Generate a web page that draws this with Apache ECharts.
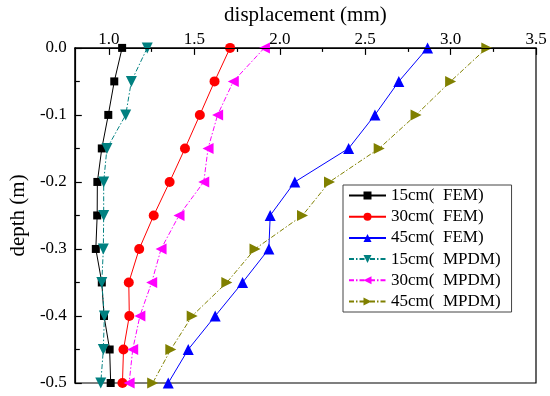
<!DOCTYPE html>
<html><head><meta charset="utf-8">
<script src="https://cdn.jsdelivr.net/npm/echarts@6/dist/echarts.min.js"></script>
<style>html,body{margin:0;padding:0;background:#fff}#c{width:550px;height:396px}</style>
</head><body><div id="c"></div>
<script>
const depth = [0, -0.05, -0.1, -0.15, -0.2, -0.25, -0.3, -0.35, -0.4, -0.45, -0.5];
const fem15  = [1.077, 1.031, 0.996, 0.958, 0.932, 0.931, 0.923, 0.958, 0.971, 1.004, 1.010];
const fem30  = [1.709, 1.618, 1.532, 1.445, 1.355, 1.262, 1.177, 1.116, 1.119, 1.085, 1.079];
const fem45  = [2.865, 2.697, 2.557, 2.403, 2.088, 1.944, 1.936, 1.782, 1.622, 1.464, 1.347];
const mpdm15 = [1.224, 1.131, 1.098, 0.988, 0.969, 0.969, 0.967, 0.958, 0.973, 0.967, 0.952];
const mpdm30 = [1.910, 1.728, 1.636, 1.580, 1.555, 1.410, 1.305, 1.250, 1.181, 1.139, 1.118];
const mpdm45 = [3.212, 3.000, 2.798, 2.582, 2.291, 2.133, 1.855, 1.690, 1.487, 1.362, 1.256];
const xMajorTicks = [1.0, 1.5, 2.0, 2.5, 3.0, 3.5];
const xMinorTicks = [1.25, 1.75, 2.25, 2.75, 3.25];

const font = 'Liberation Serif';
const dashDot = [5, 2, 1.5, 2];
function mk(name, data, color, symbol, rot, dashed) {
  return {
    name, type: 'line', xAxisIndex: 0, yAxisIndex: 0,
    data: data.map((v, i) => [v, depth[i]]),
    symbol, symbolRotate: rot, symbolSize: symbol === 'rect' ? 8 : (symbol === 'circle' ? 10 : 11),
    itemStyle: { color },
    lineStyle: { color, width: 1, type: dashed ? dashDot : 'solid' },
    clip: false, z: 3
  };
}
const chart = echarts.init(document.getElementById('c'));
chart.setOption({
  animation: false,
  grid: { left: 71, right: 14, top: 42, bottom: 13, show: true, borderColor: '#000', borderWidth: 1.2 },
  xAxis: [{
    type: 'value', position: 'top', min: 0.8, max: 3.5, z: 5,
    name: 'displacement (mm)', nameLocation: 'middle', nameGap: 19,
    nameTextStyle: { fontFamily: font, fontSize: 21, color: '#000' },
    axisLine: { show: true, lineStyle: { color: '#000', width: 1.2 } },
    axisTick: { show: true, inside: true, length: 7, customValues: xMajorTicks, lineStyle: { color: '#000', width: 1.2 } },
    axisLabel: { customValues: xMajorTicks, formatter: v => v.toFixed(1), fontFamily: font, fontSize: 17, color: '#000', margin: 0 },
    splitLine: { show: false }
  }, {
    type: 'value', position: 'top', min: 0.8, max: 3.5, z: 5,
    axisLine: { show: false },
    axisTick: { show: true, inside: true, length: 4, customValues: xMinorTicks, lineStyle: { color: '#000', width: 1.2 } },
    axisLabel: { show: false },
    splitLine: { show: false }
  }],
  yAxis: [{
    type: 'value', min: -0.5, max: 0, interval: 0.1, z: 5,
    name: 'depth (m)', nameLocation: 'middle', nameGap: 43,
    nameTextStyle: { fontFamily: font, fontSize: 21, color: '#000' },
    axisLine: { show: true, lineStyle: { color: '#000', width: 1.2 } },
    axisTick: { show: true, inside: true, length: 7, lineStyle: { color: '#000', width: 1.2 } },
    minorTick: { show: true, splitNumber: 2, length: 5, lineStyle: { color: '#000', width: 1.2 } },
    axisLabel: { formatter: v => (Math.abs(v) < 1e-9 ? 0 : v).toFixed(1), fontFamily: font, fontSize: 17, color: '#000', margin: 8 },
    splitLine: { show: false }
  }],
  legend: {
    orient: 'vertical', left: 343, top: 185,
    itemWidth: 37, itemHeight: 10, itemGap: 4.2,
    padding: [2, 11, 2, 5],
    borderColor: '#444', borderWidth: 1, backgroundColor: '#fff',
    textStyle: { fontFamily: font, fontSize: 17, color: '#000' },
    data: ['15cm(  FEM)', '30cm(  FEM)', '45cm(  FEM)', '15cm(  MPDM)', '30cm(  MPDM)', '45cm(  MPDM)']
  },
  series: [
    mk('15cm(  FEM)', fem15, '#000000', 'rect', 0, false),
    mk('30cm(  FEM)', fem30, '#ff0000', 'circle', 0, false),
    mk('45cm(  FEM)', fem45, '#0000ff', 'triangle', 0, false),
    mk('15cm(  MPDM)', mpdm15, '#008080', 'triangle', 180, true),
    mk('30cm(  MPDM)', mpdm30, '#ff00ff', 'triangle', 90, true),
    mk('45cm(  MPDM)', mpdm45, '#808000', 'triangle', -90, true)
  ]
});
</script></body></html>
